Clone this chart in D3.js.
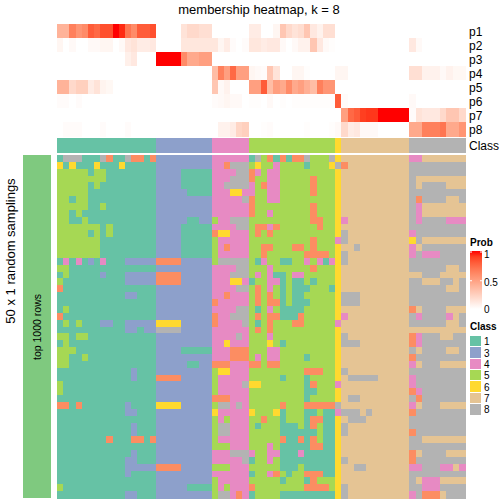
<!DOCTYPE html>
<html>
<head>
<meta charset="utf-8">
<script src="https://cdn.jsdelivr.net/npm/d3@7"></script>
<style>
html,body{margin:0;padding:0;background:#fff}
text{font-family:"Liberation Sans",Arial,sans-serif;fill:#000}
</style>
</head>
<body>
<svg id="c" width="504" height="504"></svg>
<script>
const title = "membership heatmap, k = 8";
const probNames = ["p1","p2","p3","p4","p5","p6","p7","p8"];
const p1 = [.4,.4,.65,.55,.6,.8,.75,.85,.85,1,.95,.7,.6,.8,.8,.85, 0,0,0,0,.15,.2,.2,.17,.17, 0,0,0,0,0,0, .1,.1,0,0,.05,.3,.2,.15,.18,.3,.12,.07,.17,.17, 0, 0,0,0,0,0,0,0,0,0,0,0, 0,0,0,0,0,0,0,0,0];
const p2 = [.05,0,.03,0,0,.03,.03,.05,.05,0,.03,.12,.15,.1,.1,.12, 0,0,0,0,.13,.13,.13,.13,.13, .13,.05,.1,.02,0,.02, .13,.13,.1,.12,.12,.03,0,.03,.07,.07,.3,.12,.03,.01, 0, 0,0,0,0,0,0,0,0,0,0,0, .12,.03,0,0,0,0,0,0,0];
const p3 = [0,0,0,0,0,0,0,0,0,0,0,.08,.12,0,0,0, 1,1,1,1,.6,.45,.45,.5,.5, 0,0,0,0,0,0, 0,0,0,0,0,0,0,0,0,0,0,0,0,0, 0, 0,0,0,0,0,0,0,0,0,0,0, 0,0,0,0,0,0,0,0,0];
const p4 = [0,0,0,0,0,0,0,0,0,0,0,0,0,0,0,0, 0,0,0,0,0,0,0,0,0, .35,.65,.5,.75,.5,.5, .05,.03,.02,.3,.15,0,0,.05,.05,.01,0,0,0,0, .05, .05,0,0,0,0,0,0,0,0,0,0, .17,.17,.07,.07,.07,.03,.07,.04,.04];
const p5 = [.4,.4,.2,.25,.25,.1,.15,.06,.04,0,0,0,0,0,0,0, 0,0,0,0,0,0,0,0,0, .3,.03,.07,0,0,0, .5,.5,.8,.35,.5,.45,.6,.45,.5,.42,.35,.65,.55,.55, 0, 0,0,0,0,0,0,0,0,0,0,0, 0,0,0,0,0,0,0,0,0];
const p6 = [.02,.02,0,.02,0,0,0,0,0,0,0,0,0,0,0,0, 0,0,0,0,0,0,0,0,0, .02,.03,.05,.03,.03,0, .01,.01,0,.03,0,.01,0,.01,.01,.01,.01,.01,.01,.01, .8, .02,0,0,0,0,0,0,0,0,0,0, .03,0,0,0,0,0,0,0,0];
const p7 = [0,0,0,0,0,0,0,0,0,0,0,0,0,0,0,0, 0,0,0,0,0,0,0,0,0, 0,0,0,0,0,0, 0,0,0,0,0,0,0,0,0,0,0,0,0,0, 0, .5,.75,.8,.9,.92,.92,1,1,1,1,1, .02,.15,.12,.12,.12,.2,.3,.3,.2];
const p8 = [0,.02,.02,.02,0,0,0,.02,0,0,0,.02,0,0,0,0, 0,0,0,0,0,0,0,0,0, 0,.07,.07,.1,.22,.25, 0,0,.01,.02,0,0,0,0,0,.01,0,0,0,.01, .03, .2,.1,.12,.03,.03,.03,0,0,0,0,0, .45,.45,.65,.65,.65,.7,.45,.45,.55];
const probRows = [p1,p2,p3,p4,p5,p6,p7,p8];

const columnClass = "1111111111111111 333333333 444444 55555555555555 6 77777777777 888888888";

const legendClasses = ["1","3","4","5","6","7","8"];
const classColors = {"1":"#66c2a5","2":"#fc8d62","3":"#8da0cb","4":"#e78ac3","5":"#a6d854","6":"#ffd92f","7":"#e5c494","8":"#b3b3b3"};

const sampleRows = [
"1888111821182212 333333333 444444 18521212285558 6 77777777777 447777777",
"6161116111611111 333333333 442888 56554555515556 8 27777777777 888888888",
"5555515511111111 333311111 444488 24544555555555 6 77777777777 888888888",
"5555555511111111 333311111 444888 25544555552555 6 77777777777 877777777",
"5555515111111111 333311111 448888 45244555552555 6 77777777777 878888777",
"5555511111111111 333331111 444664 45544555552555 6 77777777777 888888888",
"5515511111111111 333333333 444448 25544555555555 6 77777777777 828888778",
"5555511511111111 333333333 444444 25555555552555 6 77777777777 847777777",
"5515111111111111 333333333 444444 25545555552555 6 77777777777 847777777",
"5511511111111111 333331133 544888 55555555552255 6 47777777777 848888444",
"5555555151111111 333311111 444488 52242555555255 6 77777777777 888888888",
"5555515151111111 333311111 266444 52525555555555 6 87777777777 488888888",
"5555555111111111 333311111 544444 55555555552555 4 87777777777 687777777",
"5555555111111111 333311111 542444 55225552252555 6 77877777777 478888888",
"5555555111111111 333311111 544444 55255555522225 6 87777777777 484448888",
"1414131411133333 222233333 588888 51455115545414 6 87777777777 888888888",
"5511111111111111 333333333 444488 55545555552555 6 77777777777 888888778",
"1511111311133333 222233333 444888 54541154455555 6 77777777777 778887777",
"5111111111133333 222233333 444664 15544151151555 6 77777777777 887778878",
"2111111111111111 333333333 444488 52545151115551 6 77777777777 888888778",
"1111111111133111 333333333 442444 52525151155555 6 88877777777 888888888",
"1111111111111111 333333333 244444 52522151115555 6 88877777777 888888888",
"1511111111111111 333333333 444488 51545111155555 6 77777777777 278888777",
"2111111111111111 333333333 244888 52522111255555 6 47777777777 848888478",
"1515111331133333 666633333 244448 51525552255555 4 77777777777 888888778",
"1111111111133133 888833333 444444 52525555555555 6 77777777777 777777777",
"5515511111111111 333333333 444484 55545555555555 6 87777777777 248887788",
"1511111111111111 333333333 446444 55565155555555 6 88877777777 248888888",
"5551111111111111 333311111 444222 55544555555555 6 77777777777 878888778",
"5511511111111111 333333333 444222 54544555515555 6 77777777777 288888888",
"5511111111111111 333331133 222444 22522555555555 6 77777777777 478887777",
"1111111111113111 333333333 566444 55555555522255 6 87777777777 888888888",
"1111111111113111 222233333 544444 55555155515555 6 78888877777 488888888",
"5111111111111111 333333333 544448 66555555512555 4 77777777777 488888888",
"5111111111111111 333333333 544444 55555555511555 6 77777777777 248888888",
"1111111111111111 333333333 222444 55555555515555 6 78877777777 828888888",
"2212111111131111 666633333 588484 55555255522222 8 77777777777 478887777",
"1111111111133111 333333333 644444 65556155511511 4 88878777777 288888888",
"1111111111111111 333333333 545444 55255155512211 6 78887777777 888888888",
"1111111111113111 333333333 588444 51555111512511 6 87777777777 888888888",
"1111111111113111 333333333 588444 55555111111511 6 87777777777 288888888",
"1111111121112212 333333333 544444 55555211212511 6 77777777777 887777777",
"1111111111111111 333333333 555444 55545111112211 6 77777777777 888888888",
"1111111111113111 333333333 444888 45544111411111 6 77777777777 278888777",
"1111111111133111 333333333 444448 15545111111111 6 87777777777 288888888",
"1111111111133333 222233333 555444 55555111511111 6 77887777777 448884474",
"1111111111131111 333333333 444444 15542515522211 6 77777777777 888888888",
"1111111111111111 333333333 544444 55555155512555 6 77777777777 874447777",
"5111111111111111 333331111 545444 25555555522225 6 87777777777 884448888",
"1111111111133111 333333333 588424 15555111111111 6 87777777777 482227888"
];

const cols = d3.range(66);
const svg = d3.select("#c");
const x = d3.scaleBand().domain(cols).range([57,465]);
const yProb = d3.scaleBand().domain(probNames).range([24,136]);
const yMain = d3.scaleBand().domain(d3.range(sampleRows.length)).range([155,498]);
const prob = d3.scaleLinear().domain([0,1]).range(["#ffffff","#ff0000"]).interpolate(d3.interpolateLab);

const cells = svg.append("g").attr("shape-rendering","crispEdges");

probRows.forEach((vals,i)=>{
  cells.append("g").selectAll("rect").data(vals).join("rect")
    .attr("x",(d,c)=>x(c)).attr("y",yProb(probNames[i]))
    .attr("width",x.bandwidth()+0.5).attr("height",yProb.bandwidth()+0.5)
    .attr("fill",d=>prob(d));
});

const classSeq = columnClass.replace(/ /g,"").split("");
cells.append("g").selectAll("rect").data(classSeq).join("rect")
  .attr("x",(d,c)=>x(c)).attr("y",138)
  .attr("width",x.bandwidth()+0.5).attr("height",15)
  .attr("fill",d=>classColors[d]);

sampleRows.forEach((row,r)=>{
  cells.append("g").selectAll("rect").data(row.replace(/ /g,"").split("")).join("rect")
    .attr("x",(d,c)=>x(c)).attr("y",yMain(r))
    .attr("width",x.bandwidth()+0.5).attr("height",yMain.bandwidth()+0.5)
    .attr("fill",d=>classColors[d]);
});

cells.append("rect").attr("x",23).attr("y",155).attr("width",28).attr("height",343).attr("fill","#7fc97f");

svg.append("text").attr("x",259).attr("y",14).attr("text-anchor","middle").attr("font-size",13).text(title);

svg.append("g").selectAll("text").data(probNames).join("text")
  .attr("x",469).attr("y",d=>yProb(d)+yProb.bandwidth()/2+4.5).attr("font-size",12).text(d=>d);
svg.append("text").attr("x",469).attr("y",150).attr("font-size",12).text("Class");

svg.append("text").attr("transform","translate(15,251) rotate(-90)").attr("text-anchor","middle").attr("font-size",13).text("50 x 1 random samplings");
svg.append("text").attr("transform","translate(41,327) rotate(-90)").attr("text-anchor","middle").attr("font-size",10.5).text("top 1000 rows");

// legend: Prob
const defs = svg.append("defs");
const grad = defs.append("linearGradient").attr("id","pg").attr("x1",0).attr("x2",0).attr("y1",1).attr("y2",0);
d3.range(0,1.01,0.1).forEach(t=>grad.append("stop").attr("offset",t).attr("stop-color",prob(t)));
svg.append("text").attr("x",470).attr("y",246).attr("font-size",10).attr("font-weight","bold").text("Prob");
const legY = d3.scaleLinear().domain([0,1]).range([309,251]);
svg.append("rect").attr("x",470).attr("y",legY(1)).attr("width",12).attr("height",legY(0)-legY(1)).attr("fill","url(#pg)");
const legTicks = [0,0.5,1];
const tickY = d3.scaleLinear().domain([0,1]).range([309.5,252]);
svg.append("g").selectAll("path").data(legTicks).join("path")
  .attr("d",d=>`M470,${tickY(d)}h2M480,${tickY(d)}h2`).attr("stroke","#fff").attr("stroke-width",1);
svg.append("g").selectAll("text").data(legTicks).join("text")
  .attr("x",484).attr("y",d=>[313,285.5,258][legTicks.indexOf(d)]).attr("font-size",10).text(d=>d);

// legend: Class
svg.append("text").attr("x",470).attr("y",330).attr("font-size",10).attr("font-weight","bold").text("Class");
const legC = d3.scaleBand().domain(legendClasses).range([336,415.5]);
svg.append("g").attr("shape-rendering","crispEdges").selectAll("rect").data(legendClasses).join("rect")
  .attr("x",470).attr("y",d=>legC(d)).attr("width",11).attr("height",legC.bandwidth()-1).attr("fill",d=>classColors[d]);
svg.append("g").selectAll("text").data(legendClasses).join("text")
  .attr("x",484).attr("y",d=>legC(d)+legC.bandwidth()/2+3.5).attr("font-size",10).text(d=>d);
</script>
</body>
</html>
